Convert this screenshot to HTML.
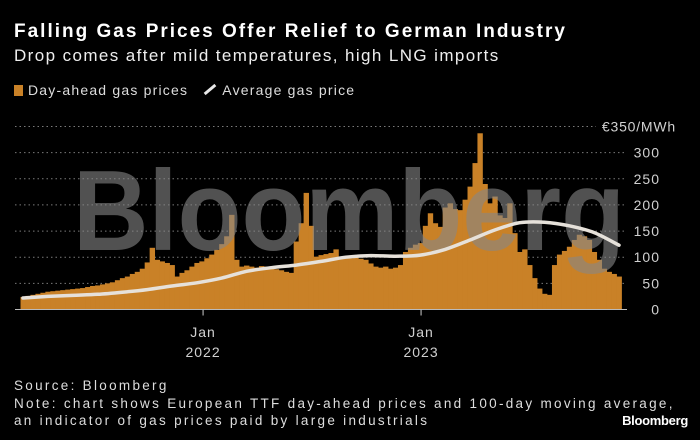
<!DOCTYPE html>
<html><head><meta charset="utf-8">
<style>
body{margin:0;background:#000;width:700px;height:440px;overflow:hidden;font-family:"Liberation Sans",sans-serif;color:#fff}
.t{position:absolute;left:14px;white-space:nowrap}
</style></head>
<body>
<div class="t" style="top:21px;font-size:19px;font-weight:bold;letter-spacing:2px">Falling Gas Prices Offer Relief to German Industry</div>
<div class="t" style="top:46px;font-size:17px;color:#eee;letter-spacing:1.4px">Drop comes after mild temperatures, high LNG imports</div>
<div class="t" style="top:82px;font-size:14px;color:#ddd;letter-spacing:1.2px">
<span><span style="display:inline-block;width:9px;height:11px;background:#c98127;vertical-align:-1px;margin-right:5px"></span>Day-ahead gas prices</span>
<span style="margin-left:10px"><span style="display:inline-block;width:14px;height:3px;background:#e8e8e8;transform:rotate(-40deg);vertical-align:4px;margin-right:5px"></span>Average gas price</span>
</div>
<svg id="chart" width="700" height="440" style="position:absolute;left:0;top:0"></svg>
<div class="t" style="top:377px;font-size:13.5px;color:#ddd;line-height:17.5px;letter-spacing:2.3px">Source: Bloomberg<br>Note: chart shows European TTF day-ahead prices and 100-day moving average,<br>an indicator of gas prices paid by large industrials</div>
<div style="position:absolute;right:12px;top:413px;font-size:13px;font-weight:bold;letter-spacing:-0.3px">Bloomberg</div>
<script>
const prices=[24,26,28,30,32,34,35,36,37,38,39,40,41,43,45,46,48,50,52,56,60,63,68,72,78,90,118,95,92,89,85,63,70,75,82,89,92,98,105,114,125,140,181,95,82,84,82,80,83,82,79,77,75,72,70,130,165,223,160,101,104,106,108,115,101,99,98,100,97,95,88,82,80,82,78,80,85,110,118,124,127,160,184,165,158,195,203,192,190,210,235,280,337,240,203,216,180,175,203,146,110,115,85,60,40,30,28,85,105,112,120,133,143,140,133,110,95,78,72,68,63];
const avgPrices=[22,25,27,29,33,38,45,51,60,73,80,85,92,100,103,102,104,115,133,152,166,167,160,147,123];
const yTicks=[0,50,100,150,200,250,300];
const yTopLabel="€350/MWh";
const xTickLabels=[["Jan","2022"],["Jan","2023"]];
const xTickYears=[2022,2023];
const startYear=2021.174, endYear=2023.908;
const NS="http://www.w3.org/2000/svg";
const svg=document.getElementById('chart');
const y0=309.5, pxPerUnit=0.5229;
const yS=v=>y0-v*pxPerUnit;
const x0=23,x1=619;
const xY=yr=>x0+(yr-startYear)/(endYear-startYear)*(x1-x0);
const xI=i=>x0+i*(x1-x0)/(prices.length-1);
function mk(tag,attrs){const e=document.createElementNS(NS,tag);for(const k in attrs)e.setAttribute(k,attrs[k]);svg.appendChild(e);return e;}
yTicks.forEach(v=>{
  if(v>0){const g=mk('line',{x1:15,x2:627,y1:yS(v),y2:yS(v),stroke:'#7a7a7a','stroke-width':1,'stroke-dasharray':'1.5,3'});
  
  }
  const t=mk('text',{x:660,y:yS(v)+5,'text-anchor':'end',fill:'#d0d0d0','font-size':14,'letter-spacing':1,'font-family':'Liberation Sans, sans-serif'});
  t.textContent=v;
  
  
});
const g350=mk('line',{x1:15,x2:596,y1:yS(350),y2:yS(350),stroke:'#7a7a7a','stroke-width':1,'stroke-dasharray':'1.5,3'});


const tt=mk('text',{x:676,y:yS(350)+5,'text-anchor':'end',fill:'#d0d0d0','font-size':14,'letter-spacing':0.8,'font-family':'Liberation Sans, sans-serif'});
tt.textContent=yTopLabel;


const bw=(x1-x0)/(prices.length-1);
prices.forEach((v,i)=>{
  const r=mk('rect',{x:xI(i)-bw/2,y:yS(v),width:bw+0.4,height:y0-yS(v),fill:'#c98127'});
  
  
});
const wm=mk('text',{x:73,y:250,'font-size':114,'font-weight':'bold',fill:'rgba(135,135,135,0.6)',textLength:552,lengthAdjust:'spacingAndGlyphs','font-family':'Liberation Sans, sans-serif'});
wm.textContent='Bloomberg';


const step=(prices.length-1)/(avgPrices.length-1);
const pts=avgPrices.map((v,j)=>[xI(j*step),yS(v)]);
let d='M'+pts[0][0]+','+pts[0][1];
for(let j=0;j<pts.length-1;j++){
  const p0=pts[Math.max(j-1,0)],p1=pts[j],p2=pts[j+1],p3=pts[Math.min(j+2,pts.length-1)];
  const c1=[p1[0]+(p2[0]-p0[0])/6,p1[1]+(p2[1]-p0[1])/6],c2=[p2[0]-(p3[0]-p1[0])/6,p2[1]-(p3[1]-p1[1])/6];
  d+='C'+c1[0].toFixed(1)+','+c1[1].toFixed(1)+' '+c2[0].toFixed(1)+','+c2[1].toFixed(1)+' '+p2[0].toFixed(1)+','+p2[1].toFixed(1);
}
const ln=mk('path',{d:d,fill:'none',stroke:'#e6e1da','stroke-width':3.5,'stroke-linejoin':'round','stroke-linecap':'round'});


const ax=mk('line',{x1:15,x2:627,y1:y0,y2:y0,stroke:'#bbb','stroke-width':1});


xTickYears.forEach((yr,k)=>{
  const x=xY(yr);
  const tk=mk('line',{x1:x,x2:x,y1:y0,y2:y0+6,stroke:'#ccc','stroke-width':1});
  
  
  xTickLabels[k].forEach((s,m)=>{
    const t=mk('text',{x:x,y:337+m*20,'text-anchor':'middle',fill:'#d0d0d0','font-size':14,'letter-spacing':1,'font-family':'Liberation Sans, sans-serif'});
    t.textContent=s;
    
    
  });
});
</script>
</body></html>
